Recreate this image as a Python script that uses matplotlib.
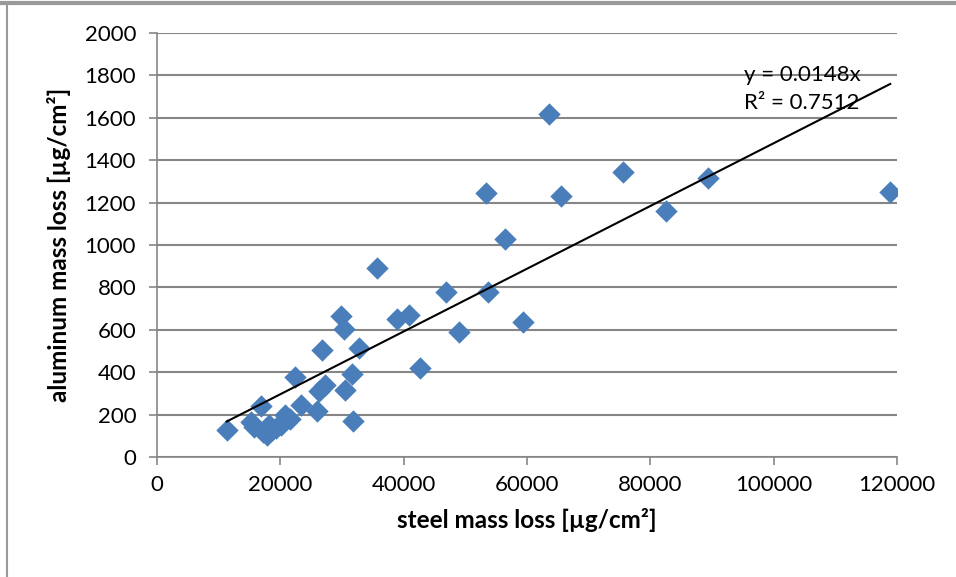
import numpy as np
import matplotlib.pyplot as plt
from matplotlib.lines import Line2D

# steel mass loss [ug/cm2] vs aluminum mass loss [ug/cm2]
steel = [11300, 15300, 15800, 16800, 17200, 17800, 18200, 18700, 19300, 20100,
         20800, 21600, 22400, 23300, 25900, 26300, 26700, 27200, 29800, 30400,
         30500, 31700, 31800, 32800, 35700, 38900, 40800, 42700, 46800, 49000,
         53300, 53600, 56400, 59400, 63500, 65500, 75500, 82500, 89300, 118900]
alu = [125, 165, 140, 240, 120, 105, 150, 125, 135, 150,
       200, 180, 375, 245, 215, 310, 505, 340, 665, 605,
       315, 390, 170, 515, 890, 650, 670, 420, 780, 590,
       1245, 780, 1030, 635, 1620, 1232, 1345, 1160, 1315, 1248]
slope = 0.0148
r2 = 0.7512

plt.rcParams['font.family'] = ['Lato', 'DejaVu Sans']

fig = plt.figure(figsize=(9.56, 5.77), dpi=100)
ax = fig.add_axes([0.1642, 0.208, 0.9383 - 0.1642, 0.9428 - 0.208])

ax.scatter(steel, alu, marker='D', s=130, color='#4a7ebb', zorder=3, linewidths=0)
xs = np.array([min(steel), max(steel)])
ax.plot(xs, slope * xs, color='black', lw=1.5, zorder=4)

ax.set_xlim(0, 120000)
ax.set_ylim(0, 2000)
ax.set_xticks(np.arange(0, 120001, 20000))
ax.set_yticks(np.arange(0, 2001, 200))
ax.grid(axis='y', color='#868686', lw=1.5, zorder=0)
ax.set_axisbelow(True)
for s in ['top', 'right']:
    ax.spines[s].set_visible(False)
for s in ['left', 'bottom']:
    ax.spines[s].set_color('#868686')
    ax.spines[s].set_linewidth(1.2)
ax.tick_params(axis='both', colors='#868686', labelcolor='black', labelsize=16, length=6, width=1.2)
ax.tick_params(axis='y', pad=9)
ax.tick_params(axis='x', pad=7)

ax.set_xlabel('steel mass loss [µg/cm²]', fontsize=17.5, fontweight='bold', labelpad=9)
ax.set_ylabel('aluminum mass loss [µg/cm²]', fontsize=17.5, fontweight='bold', labelpad=10)

ax.text(0.793, 0.868, f'y = {slope}x\nR² = {r2}', transform=ax.transAxes,
        fontsize=16, linespacing=1.55, va='center', ha='left')

# outer frame lines
fig.add_artist(Line2D([0, 1], [0.995, 0.995], transform=fig.transFigure, color='#999999', lw=3))
fig.add_artist(Line2D([0.0075, 0.0075], [0, 0.995], transform=fig.transFigure, color='#999999', lw=1.5))

fig.savefig('out.png', dpi=100)
